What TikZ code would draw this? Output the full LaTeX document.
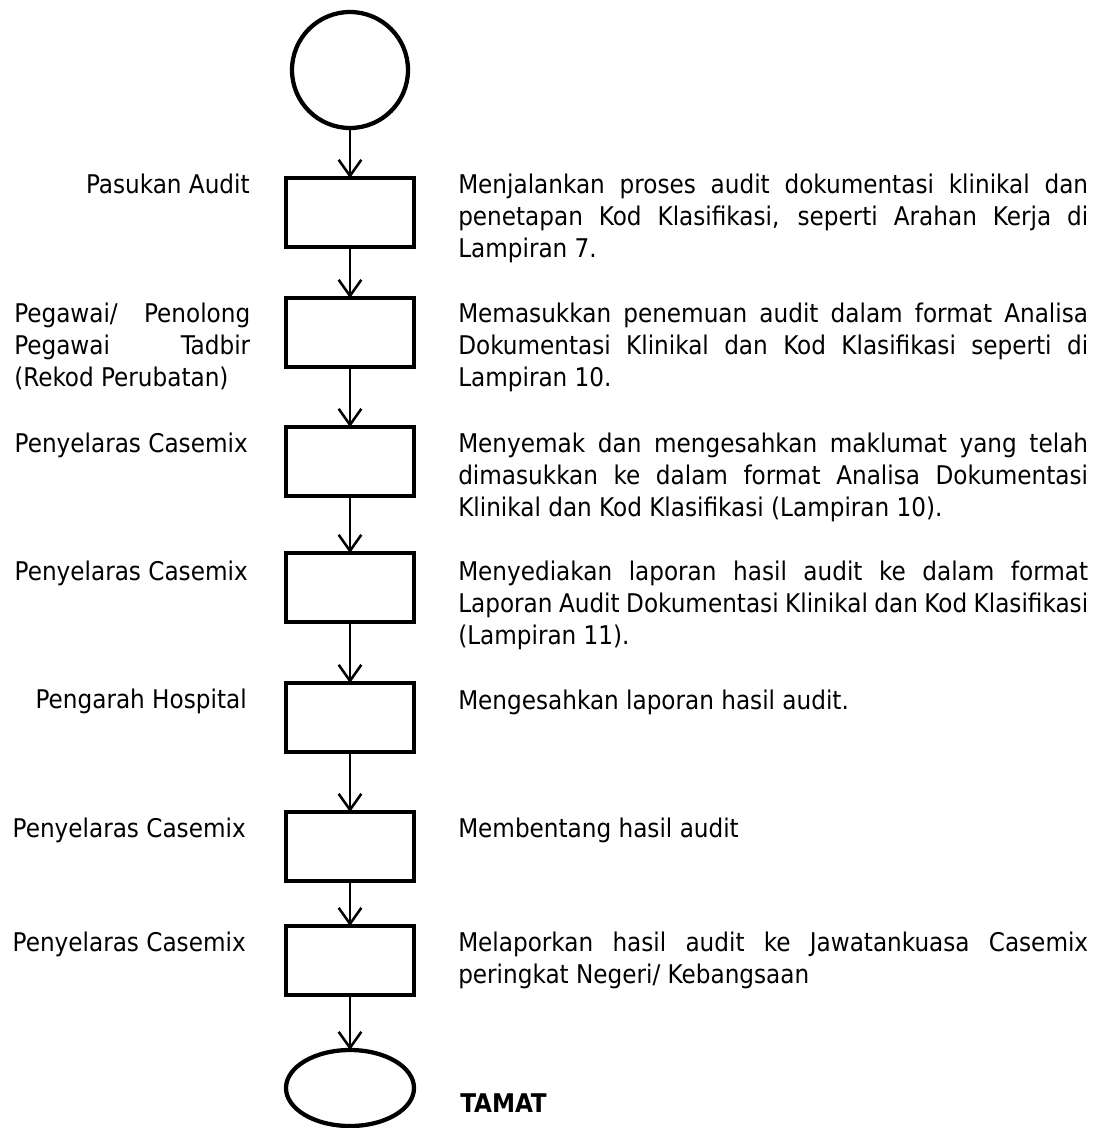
\documentclass[tikz,border=0pt]{standalone}
\usepackage{fontspec}
\setmainfont{DejaVu Sans Condensed}
\usetikzlibrary{arrows.meta, positioning, shapes.geometric}

\begin{document}
\begin{tikzpicture}[
  x=0.75pt, y=-0.75pt,
  stepbox/.style={
    rectangle,
    draw,
    line width=3.2pt,
    inner sep=0pt,
    outer sep=0pt,
    minimum width=96pt,
    minimum height=51.75pt
  },
  endpoint/.style={draw, line width=3.2pt, inner sep=0pt, outer sep=0pt},
  arrow/.style={-{Straight Barb[length=12pt, width=17pt, line width=1.9pt]}, line width=1.9pt},
  role/.style={anchor=base east, inner sep=0pt},
  task/.style={anchor=base west, inner sep=0pt, text width=472.5pt, align=justify},
  every node/.append style={font=\fontsize{19.3}{24}\selectfont}
]
\useasboundingbox (0,0) rectangle (1093,1128);

% Flow (stacked top-down)
\node[endpoint, circle, minimum size=87pt] (start) at (350,70) {};
\node[stepbox, below=37.5pt of start] (audit) {};
\node[stepbox, below=38.25pt of audit] (enter) {};
\node[stepbox, below=45pt of enter] (check) {};
\node[stepbox, below=42.75pt of check] (report) {};
\node[stepbox, below=45.75pt of report] (approve) {};
\node[stepbox, below=45pt of approve] (present) {};
\node[stepbox, below=33.75pt of present] (inform) {};
\node[endpoint, ellipse, minimum width=96pt, minimum height=57pt, below=41.25pt of inform] (stop) {};

% Arrows
\draw[arrow] (start) -- (audit);
\draw[arrow] (audit) -- (enter);
\draw[arrow] (enter) -- (check);
\draw[arrow] (check) -- (report);
\draw[arrow] (report) -- (approve);
\draw[arrow] (approve) -- (present);
\draw[arrow] (present) -- (inform);
\draw[arrow] (inform) -- (stop);

% Left-hand labels (who)
\node[role] (roleAudit) at (250,193) {Pasukan Audit};
\node[anchor=base west, inner sep=0pt, text width=177pt, align=justify] (roleEnter) at (14,322)
  {Pegawai/ Penolong\linebreak Pegawai Tadbir\linebreak (Rekod Perubatan)};
\node[role] (roleCheck) at (248,452) {Penyelaras Casemix};
\node[role] (roleReport) at (248,580) {Penyelaras Casemix};
\node[role] (roleApprove) at (247,708) {Pengarah Hospital};
\node[role] (rolePresent) at (246,837) {Penyelaras Casemix};
\node[role] (roleInform) at (246,951) {Penyelaras Casemix};

% Right-hand labels (what)
\node[task] (taskAudit) at (458,193) {Menjalankan proses audit dokumentasi klinikal dan\linebreak penetapan Kod Klasifikasi, seperti Arahan Kerja di\linebreak Lampiran 7.};
\node[task] (taskEnter) at (458,322) {Memasukkan penemuan audit dalam format Analisa\linebreak Dokumentasi Klinikal dan Kod Klasifikasi seperti di\linebreak Lampiran 10.};
\node[task] (taskCheck) at (458,452) {Menyemak dan mengesahkan maklumat yang telah\linebreak dimasukkan ke dalam format Analisa Dokumentasi\linebreak Klinikal dan Kod Klasifikasi (Lampiran 10).};
\node[task] (taskReport) at (458,580) {Menyediakan laporan hasil audit ke dalam format\linebreak Laporan Audit Dokumentasi Klinikal dan Kod Klasifikasi\linebreak (Lampiran 11).};
\node[task] (taskApprove) at (458,709) {Mengesahkan laporan hasil audit.};
\node[task] (taskPresent) at (458,837) {Membentang hasil audit};
\node[task] (taskInform) at (458,951) {Melaporkan hasil audit ke Jawatankuasa Casemix\linebreak peringkat Negeri/ Kebangsaan};

\node[anchor=base west, inner sep=0pt, font=\fontsize{19.3}{24}\selectfont\bfseries] (end) at (460,1112) {TAMAT};

\end{tikzpicture}
\end{document}
